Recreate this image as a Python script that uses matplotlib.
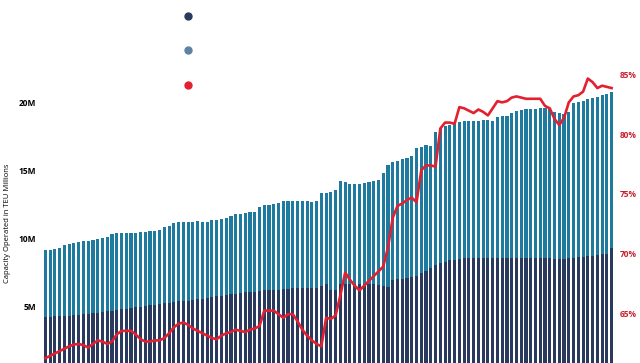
import numpy as np
import matplotlib
matplotlib.use("Agg")
import matplotlib.pyplot as plt
from matplotlib.lines import Line2D

plt.rcParams["font.family"] = ["Open Sans", "DejaVu Sans"]

# total capacity operated (M TEU), one bar per period
total = [9.1, 9.15, 9.2, 9.3, 9.45, 9.55, 9.6, 9.7, 9.75, 9.8,
         9.85, 9.9, 10.0, 10.1, 10.3, 10.4, 10.4, 10.4, 10.4, 10.4,
         10.45, 10.45, 10.5, 10.5, 10.6, 10.8, 10.9, 11.1, 11.2, 11.2,
         11.2, 11.2, 11.25, 11.2, 11.2, 11.3, 11.35, 11.4, 11.5, 11.6,
         11.8, 11.8, 11.85, 11.9, 11.9, 12.3, 12.4, 12.45, 12.5, 12.6,
         12.7, 12.75, 12.75, 12.75, 12.7, 12.7, 12.65, 12.7, 13.3, 13.3,
         13.4, 13.5, 14.2, 14.1, 14.0, 13.95, 14.0, 14.05, 14.1, 14.2,
         14.3, 14.8, 15.4, 15.6, 15.65, 15.8, 15.9, 16.0, 16.6, 16.7,
         16.85, 16.8, 17.8, 18.1, 18.2, 18.3, 18.5, 18.55, 18.6, 18.6,
         18.6, 18.6, 18.65, 18.65, 18.6, 18.9, 19.0, 19.0, 19.2, 19.35,
         19.4, 19.45, 19.5, 19.5, 19.55, 19.55, 19.5, 19.3, 19.2, 19.1,
         19.3, 19.9, 20.0, 20.1, 20.2, 20.3, 20.4, 20.5, 20.6, 20.7]

# lower (navy) part of each bar
lower = [4.2, 4.2, 4.25, 4.25, 4.3, 4.3, 4.35, 4.35, 4.4, 4.4,
         4.45, 4.5, 4.55, 4.6, 4.65, 4.7, 4.75, 4.8, 4.85, 4.9,
         4.95, 5.0, 5.05, 5.1, 5.15, 5.2, 5.25, 5.3, 5.35, 5.4,
         5.4, 5.45, 5.5, 5.55, 5.6, 5.65, 5.7, 5.75, 5.8, 5.85,
         5.9, 5.95, 6.0, 6.0, 6.05, 6.1, 6.15, 6.15, 6.2, 6.2,
         6.25, 6.25, 6.3, 6.3, 6.3, 6.35, 6.3, 6.35, 6.5, 6.6,
         6.2, 6.2, 6.6, 6.6, 6.6, 6.6, 6.6, 6.6, 6.6, 6.6,
         6.55, 6.45, 6.4, 6.9, 6.95, 7.0, 7.05, 7.1, 7.2, 7.4,
         7.6, 7.8, 8.0, 8.15, 8.25, 8.35, 8.4, 8.45, 8.5, 8.5,
         8.5, 8.5, 8.55, 8.55, 8.55, 8.5, 8.55, 8.55, 8.55, 8.55,
         8.55, 8.55, 8.55, 8.55, 8.55, 8.5, 8.5, 8.45, 8.45, 8.45,
         8.5, 8.55, 8.6, 8.6, 8.65, 8.7, 8.75, 8.8, 8.85, 9.3]

# share in percent (right axis)
share = [61.2, 61.4, 61.6, 61.8, 62.0, 62.2, 62.35, 62.4, 62.3, 62.1,
         62.4, 62.7, 62.6, 62.4, 62.6, 63.2, 63.5, 63.5, 63.5, 63.2,
         62.8, 62.6, 62.6, 62.7, 62.7, 62.9, 63.3, 63.8, 64.1, 64.2,
         64.0, 63.7, 63.5, 63.3, 63.1, 62.9, 62.8, 63.1, 63.3, 63.4,
         63.6, 63.5, 63.4, 63.6, 63.7, 63.9, 65.2, 65.2, 65.2, 64.9,
         64.6, 64.9, 64.9, 64.3, 63.6, 63.1, 62.7, 62.4, 62.2, 64.6,
         64.5, 64.8, 66.5, 68.4, 67.8, 67.3, 66.9, 67.3, 67.7, 68.1,
         68.5, 68.9, 70.5, 73.0, 74.0, 74.2, 74.5, 74.7, 74.3, 77.0,
         77.4, 77.4, 77.3, 80.5, 81.0, 81.0, 80.9, 82.3, 82.2, 82.0,
         81.8, 82.1, 81.9, 81.6, 82.2, 82.8, 82.7, 82.8, 83.1, 83.2,
         83.1, 83.0, 83.0, 83.0, 83.0, 82.4, 82.2, 81.3, 80.8, 81.4,
         82.7, 83.2, 83.3, 83.6, 84.7, 84.4, 83.9, 84.1, 84.0, 83.9]

left_ticks = [5, 10, 15, 20]
left_labels = ["5M", "10M", "15M", "20M"]
right_ticks = [65, 70, 75, 80, 85]
right_labels = ["65%", "70%", "75%", "80%", "85%"]

navy = "#2a3a5f"
teal = "#1f7aa0"
red = "#e3202f"

x = np.arange(len(total))
upper = np.array(total) - np.array(lower)

fig = plt.figure(figsize=(6.4, 3.63), dpi=100)
ax = fig.add_axes([43 / 640, 0, 571 / 640, 1])
ax.bar(x, lower, 0.66, color=navy)
ax.bar(x, upper, 0.66, bottom=lower, color=teal)
ax.set_xlim(-0.5, len(total) - 0.5)
ax.set_ylim(0.81, 27.5)
ax.set_yticks(left_ticks)
ax.set_yticklabels(left_labels, fontsize=6, fontweight="bold")
ax.tick_params(axis="y", length=0, pad=5)
ax.set_xticks([])
for s in ax.spines.values():
    s.set_visible(False)

ax2 = ax.twinx()
ax2.plot(x, share, color=red, lw=1.9)
ax2.set_ylim(60.8, 91.3)
ax2.set_yticks(right_ticks)
ax2.set_yticklabels(right_labels, fontsize=6, fontweight="bold", color="#c8202e")
ax2.tick_params(axis="y", length=0, pad=4.5)
for s in ax2.spines.values():
    s.set_visible(False)

fig.text(8 / 640, 1 - 223 / 363, "Capacity Operated in TEU Millions",
         rotation=90, fontsize=5.5, ha="center", va="center")

handles = [Line2D([], [], ls="", marker="o", ms=5, color=navy),
           Line2D([], [], ls="", marker="o", ms=5, color="#5d82a6"),
           Line2D([], [], ls="", marker="o", ms=5, color=red)]
fig.legend(handles, ["", "", ""], loc="upper left",
           bbox_to_anchor=(170 / 640, 1 - 2 / 363), frameon=False,
           labelspacing=2.1, fontsize=8, handlelength=1.5)

fig.savefig("out.png", dpi=100)
